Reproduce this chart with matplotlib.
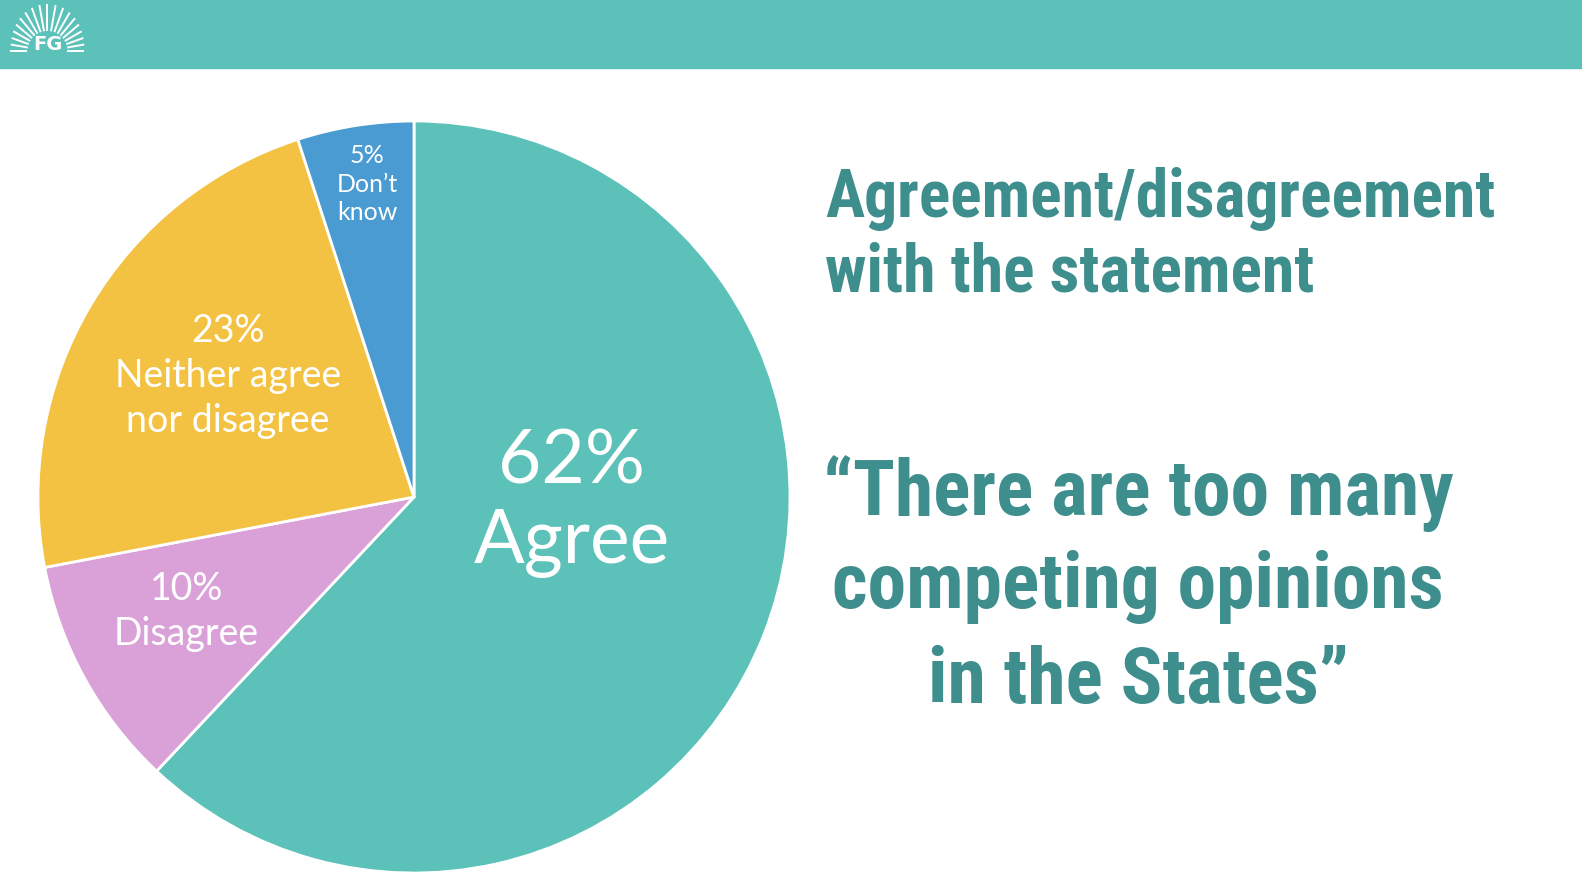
import matplotlib
matplotlib.use("Agg")
import matplotlib.pyplot as plt
import numpy as np
from matplotlib import font_manager
from matplotlib.patches import Rectangle

W, H, DPI = 1582, 888, 100

HEADER_COLOR = "#5BC1B9"
TITLE_COLOR = "#3E8E8E"

CATEGORIES = ["Agree", "Disagree", "Neither agree\nnor disagree", "Don\u2019t\nknow"]
VALUES = [62, 10, 23, 5]
COLORS = ["#5BC1B9", "#DAA1D9", "#F4C242", "#4A9BD1"]

# label placement (pie data coords), font sizes, line spacing
LABEL_POS = [(0.42, -0.015), (-0.605, -0.305), (-0.495, 0.322), (-0.125, 0.832)]
LABEL_SIZE = [54, 27, 27, 18]
LABEL_SPACING = [1.2, 1.3, 1.3, 1.3]

TITLE_LINES = ["Agreement/disagreement", "with the statement"]
QUOTE_LINES = ["\u201cThere are too many", "competing opinions", "in the States\u201d"]


def _resolve_font(candidates, weight="normal"):
    for name in candidates:
        try:
            font_manager.findfont(font_manager.FontProperties(family=name, weight=weight),
                                  fallback_to_default=False)
            return name
        except Exception:
            continue
    return "DejaVu Sans"


CONDENSED = _resolve_font(["Liberation Sans Narrow", "DejaVu Sans Condensed", "Roboto Condensed",
                           "Liberation Sans"], weight="bold")
LABEL_FONT = _resolve_font(["Lato", "Open Sans", "Noto Sans"])

fig = plt.figure(figsize=(W / DPI, H / DPI), dpi=DPI)
fig.patch.set_facecolor("white")

# header band
fig.patches.append(Rectangle((0, 1 - 68 / H), 1, 68 / H, transform=fig.transFigure,
                             color=HEADER_COLOR, zorder=0))

# logo: sunburst + FG, axes in pixel units (y down)
lax = fig.add_axes([0, 1 - 68 / H, 100 / W, 68 / H], zorder=5)
lax.set_xlim(0, 100)
lax.set_ylim(68, 0)
lax.patch.set_alpha(0)
lax.axis("off")
cx, cy = 47.5, 51
for ang in np.linspace(0, 180, 19):
    a = np.deg2rad(ang)
    # longer rays near the top, shorter toward the sides
    r1 = 37 + 10 * np.sin(a) ** 2
    r0 = 20
    lax.plot([cx + r0 * np.cos(a), cx + r1 * np.cos(a)], [cy - r0 * np.sin(a), cy - r1 * np.sin(a)],
             color="white", lw=1.4, solid_capstyle="butt")
lax.text(cx, cy - 1.5, "FG", color="white", fontsize=14, fontweight="bold", ha="center",
         va="baseline", family="DejaVu Sans")

# pie
cxp, cyp, r = 414, 497, 376
ax = fig.add_axes([(cxp - r) / W, (H - cyp - r) / H, 2 * r / W, 2 * r / H])
wedges, _ = ax.pie(VALUES, colors=COLORS, startangle=90, counterclock=False, radius=1,
                   wedgeprops=dict(edgecolor="white", linewidth=2))
ax.set_xlim(-1, 1)
ax.set_ylim(-1, 1)
ax.set_aspect("equal")
ax.axis("off")

for cat, val, (x, y), fs, ls in zip(CATEGORIES, VALUES, LABEL_POS, LABEL_SIZE, LABEL_SPACING):
    ax.text(x, y, f"{val}%\n{cat}", ha="center", va="center", color="white", fontsize=fs,
            family=LABEL_FONT, linespacing=ls)

renderer = fig.canvas.get_renderer()


def fit_lines(lines, baselines, target_w, xpos, ha):
    probe = fig.text(0, 0, max(lines, key=len), fontsize=50, family=CONDENSED, fontweight="bold")
    widths = []
    for s in lines:
        probe.set_text(s)
        widths.append(probe.get_window_extent(renderer).width)
    probe.remove()
    fs = 50 * target_w / max(widths)
    for s, b in zip(lines, baselines):
        fig.text(xpos / W, 1 - b / H, s, fontsize=fs, family=CONDENSED, fontweight="bold",
                 color=TITLE_COLOR, ha=ha, va="baseline")


fit_lines(TITLE_LINES, [217, 291], 671, 825, "left")
fit_lines(QUOTE_LINES, [515, 608, 703], 631, 1138, "center")

fig.savefig("out.png", dpi=DPI, facecolor="white")
